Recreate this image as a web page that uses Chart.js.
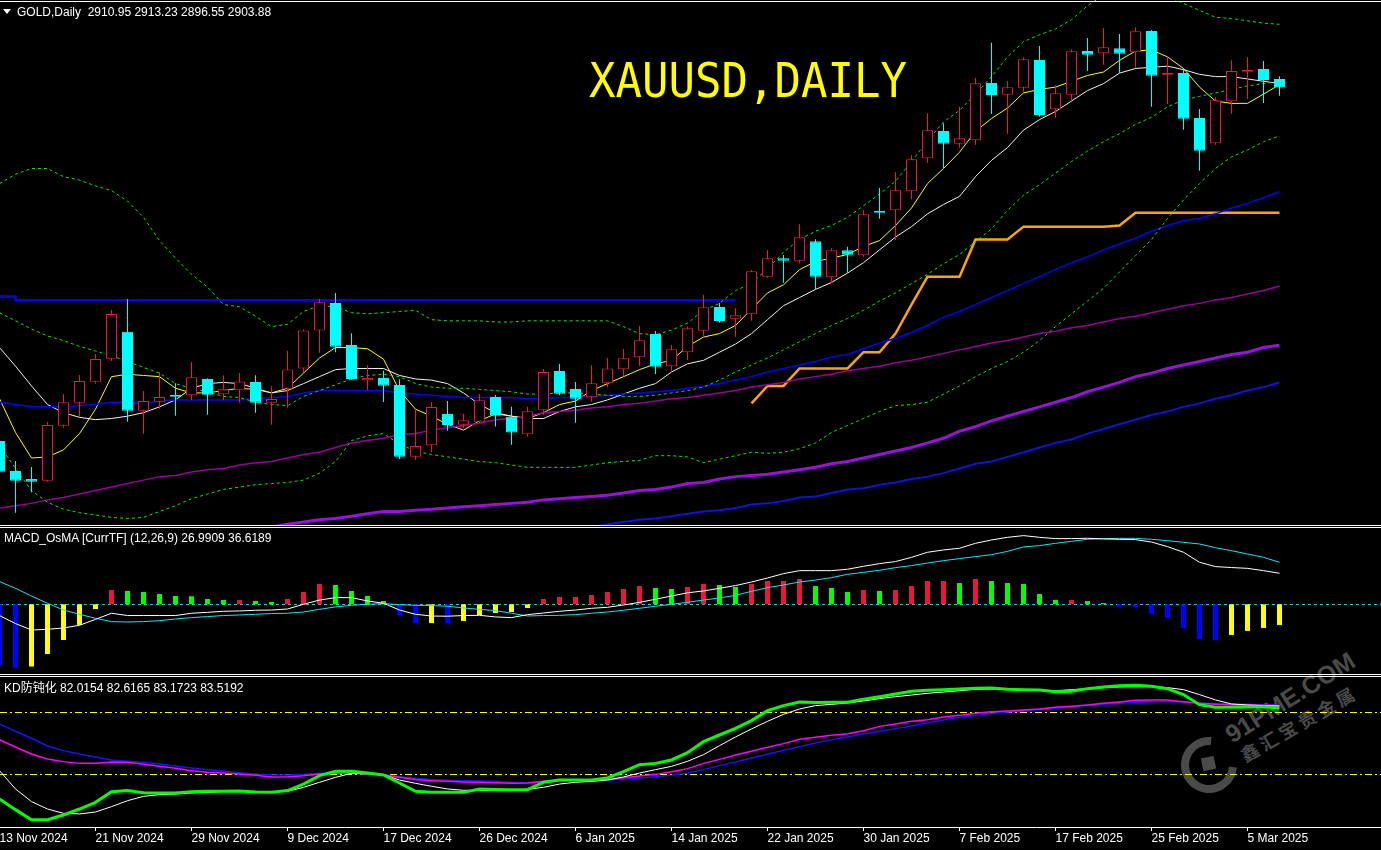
<!DOCTYPE html>
<html><head><meta charset="utf-8">
<script src="https://cdn.jsdelivr.net/npm/chart.js@4.4.1/dist/chart.umd.min.js"></script>
<style>
html,body{margin:0;padding:0;background:#000;width:1381px;height:850px;overflow:hidden;position:relative;}
canvas{position:absolute;left:0;}
.txt{position:absolute;color:#fff;font-family:'Liberation Sans',Arial,sans-serif;font-size:12px;white-space:pre;line-height:14px;z-index:5;}
.hl{position:absolute;left:0;width:1381px;height:1px;background:#fff;z-index:5;}
#wm div{position:absolute;}
</style></head><body>
<div id="wm" style="position:absolute;left:0;top:0;width:1381px;height:850px;">
  <div style="left:1181px;top:737px;width:40px;height:40px;border:8px solid #4a4a4a;border-radius:50%;border-right-color:transparent;transform:rotate(-40deg);"></div>
  <div style="left:1202px;top:757px;width:13px;height:13px;background:#4a4a4a;transform:rotate(-12deg);"></div>
  <div style="left:1228px;top:722px;height:30px;line-height:30px;font:bold 25px 'Liberation Sans',sans-serif;color:#4a4a4a;white-space:nowrap;transform-origin:0 50%;transform:rotate(-32deg);">91PME.COM</div>
  <div style="left:1241px;top:743px;height:24px;line-height:24px;font:bold 18px 'Noto Sans CJK SC',sans-serif;letter-spacing:4px;color:#4a4a4a;white-space:nowrap;transform-origin:0 50%;transform:rotate(-30deg);">鑫汇宝贵金属</div>
</div>
<canvas id="main" width="1381" height="525" style="top:0;width:1381px;height:525px"></canvas>
<canvas id="macd" width="1381" height="147" style="top:527px;width:1381px;height:147px"></canvas>
<canvas id="kd" width="1381" height="174" style="top:676px;width:1381px;height:174px"></canvas>
<div class="hl" style="top:1px"></div>
<div class="hl" style="top:525px"></div>
<div class="hl" style="top:527px"></div>
<div class="hl" style="top:674px"></div>
<div class="hl" style="top:676px"></div>
<div style="position:absolute;left:3px;top:9px;width:0;height:0;border-left:4px solid transparent;border-right:4px solid transparent;border-top:5px solid #fff;z-index:5"></div>
<div class="txt" id="hdr" style="left:17px;top:5px"></div>
<div class="txt" style="left:589px;top:56px;font-family:'DejaVu Sans Mono',monospace;font-size:44px;line-height:44px;color:#ffff00;transform-origin:0 0;transform:scaleY(1.1);">XAUUSD,DAILY</div>
<div class="txt" style="left:4px;top:531px">MACD_OsMA [CurrTF] (12,26,9) 26.9909 36.6189</div>
<div class="txt" style="left:4px;top:681px;font-family:'Liberation Sans','Noto Sans CJK SC',sans-serif">KD防钝化 82.0154 82.6165 83.1723 83.5192</div>
<script>
// ---------- DATA ----------
const dates = ["13 Nov 2024","14 Nov 2024","15 Nov 2024","18 Nov 2024","19 Nov 2024","20 Nov 2024","21 Nov 2024","22 Nov 2024","25 Nov 2024","26 Nov 2024","27 Nov 2024","28 Nov 2024","29 Nov 2024",
"2 Dec 2024","3 Dec 2024","4 Dec 2024","5 Dec 2024","6 Dec 2024","9 Dec 2024","10 Dec 2024","11 Dec 2024","12 Dec 2024","13 Dec 2024","16 Dec 2024","17 Dec 2024","18 Dec 2024","19 Dec 2024","20 Dec 2024","23 Dec 2024","24 Dec 2024","26 Dec 2024","27 Dec 2024","30 Dec 2024","31 Dec 2024",
"2 Jan 2025","3 Jan 2025","6 Jan 2025","7 Jan 2025","8 Jan 2025","9 Jan 2025","10 Jan 2025","13 Jan 2025","14 Jan 2025","15 Jan 2025","16 Jan 2025","17 Jan 2025","20 Jan 2025","21 Jan 2025","22 Jan 2025","23 Jan 2025","24 Jan 2025","27 Jan 2025","28 Jan 2025","29 Jan 2025","30 Jan 2025","31 Jan 2025",
"3 Feb 2025","4 Feb 2025","5 Feb 2025","6 Feb 2025","7 Feb 2025","10 Feb 2025","11 Feb 2025","12 Feb 2025","13 Feb 2025","14 Feb 2025","17 Feb 2025","18 Feb 2025","19 Feb 2025","20 Feb 2025","21 Feb 2025","24 Feb 2025","25 Feb 2025","26 Feb 2025","27 Feb 2025","28 Feb 2025",
"3 Mar 2025","4 Mar 2025","5 Mar 2025","6 Mar 2025","7 Mar 2025"];
const tickBars = [0,6,12,18,24,30,36,42,48,54,60,66,72,78];

const openP = [2599.6,2573.8,2567.0,2565.5,2612.8,2632.6,2650.6,2670.4,2693.6,2625.7,
2633.5,2639.2,2638.9,2652.9,2639.8,2643.2,2650.4,2632.6,2644.6,2662.0,
2694.7,2718.3,2682.2,2651.8,2653.8,2647.8,2586.1,2595.9,2622.8,2613.7,
2616.2,2637.4,2620.6,2605.4,2626.0,2659.8,2644.3,2637.2,2649.2,2661.3,
2671.6,2691.7,2663.9,2675.9,2694.4,2714.9,2704.8,2708.6,2740.9,2756.7,
2754.7,2771.4,2740.4,2763.6,2759.3,2796.6,2798.0,2814.4,2842.8,2866.2,
2855.3,2858.2,2907.5,2897.5,2903.5,2927.3,2884.9,2897.5,2935.0,2933.0,
2937.3,2933.9,2952.2,2914.7,2916.1,2877.4,2855.7,2891.8,2917.3,2919.6,
2910.95];
const highP = [2600.0,2582.4,2577.3,2615.9,2640.0,2656.4,2674.5,2712.3,2721.7,2642.6,
2658.9,2649.2,2667.6,2653.5,2656.1,2658.1,2656.1,2646.7,2677.3,2695.6,
2721.7,2726.9,2692.2,2664.8,2660.1,2652.7,2627.1,2633.2,2634.0,2622.8,
2640.0,2639.2,2629.0,2629.0,2661.5,2665.8,2650.4,2664.8,2671.0,2678.7,
2698.5,2694.2,2682.2,2698.2,2725.4,2718.3,2713.7,2746.7,2763.9,2759.6,
2786.0,2773.1,2765.3,2766.7,2798.3,2817.2,2831.0,2845.6,2881.4,2872.8,
2887.1,2911.8,2942.2,2909.2,2929.6,2939.3,2905.5,2936.5,2946.2,2954.8,
2949.7,2955.4,2953.1,2930.1,2920.2,2885.2,2895.2,2927.0,2929.9,2926.4,
2913.23];
const lowP = [2572.6,2538.0,2555.5,2564.5,2611.1,2620.6,2648.9,2668.5,2616.2,2605.9,
2627.4,2621.4,2634.6,2622.3,2634.6,2632.6,2624.0,2613.7,2628.3,2658.4,
2675.6,2675.9,2652.3,2643.5,2633.2,2584.1,2583.3,2590.1,2608.5,2610.8,
2614.9,2612.1,2596.4,2603.4,2622.3,2638.9,2615.4,2633.5,2645.8,2655.5,
2664.1,2657.2,2660.1,2669.3,2690.2,2701.5,2689.4,2703.1,2740.0,2735.8,
2752.5,2730.4,2735.3,2744.4,2758.1,2790.8,2772.2,2807.5,2839.0,2834.2,
2851.9,2854.2,2880.9,2863.9,2900.0,2878.5,2877.7,2892.9,2917.8,2923.2,
2915.9,2920.7,2887.1,2889.5,2867.3,2832.1,2854.5,2881.1,2893.8,2890.3,
2896.55];
const closeP = [2573.2,2565.5,2564.6,2613.4,2632.9,2651.2,2670.1,2708.9,2625.7,2634.0,
2637.4,2637.7,2654.4,2639.4,2644.1,2650.9,2632.6,2635.8,2661.2,2694.7,
2718.9,2680.7,2652.9,2653.8,2647.2,2586.1,2595.3,2628.9,2613.4,2617.5,
2634.6,2621.4,2607.0,2625.2,2658.9,2640.3,2636.0,2649.2,2661.9,2670.7,
2686.2,2663.5,2678.5,2696.5,2714.6,2702.8,2707.7,2745.6,2756.7,2754.7,
2774.8,2740.9,2763.6,2759.9,2794.6,2796.0,2815.2,2841.9,2866.8,2855.3,
2859.9,2907.2,2897.2,2903.8,2927.9,2880.0,2898.7,2934.8,2931.9,2938.2,
2932.7,2952.0,2913.8,2916.4,2876.8,2849.3,2892.6,2917.8,2919.0,2910.1,
2903.88];

const maYellow = [2636,2607,2585,2586,2592,2606,2627,2655,2657,2656,
2655,2645,2641,2641,2643,2645,2644,2641,2645,2658,
2671,2680,2680,2679,2670,2643,2627,2621,2614,2609,
2617,2623,2621,2619,2624,2631,2634,2643,2649,2655,
2661,2666,2669,2681,2689,2692,2699,2713,2727,2734,
2747,2754,2757,2760,2767,2772,2785,2800,2821,2834,
2848,2866,2877,2886,2899,2902,2904,2909,2914,2917,
2927,2935,2936,2930,2920,2904,2892,2890,2890,2898,
2906];
const maWhite = [2680,2664,2647,2631,2624,2620,2618,2619,2621,2624,
2629,2635,2645,2649,2650,2649,2645,2641,2643,2649,
2655,2661,2662,2662,2662,2656,2653,2652,2649,2641,
2631,2624,2621,2619,2619,2625,2629,2631,2635,2640,
2645,2649,2659,2666,2669,2676,2683,2692,2704,2716,
2723,2730,2736,2744,2753,2764,2775,2784,2795,2803,
2810,2827,2841,2852,2867,2876,2883,2892,2901,2907,
2916,2920,2921,2922,2919,2915,2913,2913,2911,2909,
2907];
const maBlue = [2633,2631,2629,2629,2629,2630,2631,2633,2633,2632,
2634,2635,2635,2635,2635,2635,2636,2637,2638,2641,
2643,2643,2643,2643,2643,2641,2640,2639,2638,2637,
2637,2637,2637,2636,2636,2637,2637,2638,2639,2640,
2641,2642,2643,2645,2647,2649,2652,2655,2659,2662,
2665,2668,2672,2674,2679,2684,2688,2693,2699,2706,
2711,2717,2723,2729,2735,2741,2747,2753,2758,2764,
2769,2774,2780,2785,2789,2791,2795,2800,2804,2809,
2814];
const maMagenta = [2542,2544,2546,2549,2551,2554,2557,2560,2563,2566,
2569,2570,2573,2575,2576,2579,2581,2582,2585,2588,
2590,2594,2598,2600,2602,2605,2606,2609,2611,2613,
2615,2618,2619,2621,2624,2625,2626,2628,2629,2631,
2632,2634,2636,2637,2639,2641,2643,2646,2648,2650,
2653,2655,2657,2660,2662,2664,2667,2669,2672,2675,
2678,2681,2684,2686,2689,2692,2694,2697,2699,2702,
2705,2707,2710,2713,2716,2718,2721,2723,2726,2729,
2733];
const maPurple = [null,null,null,null,null,null,null,null,null,null,
null,null,null,null,null,null,null,2525.5,2528,2530,
2532,2533,2535,2537,2539,2539,2540,2541,2542,2543,
2544,2545,2546,2547,2549,2550,2551,2552,2553,2555,
2557,2558,2560,2563,2564,2567,2569,2570,2571,2573,
2575,2577,2580,2582,2585,2588,2591,2594,2598,2602,
2608,2612,2617,2621,2625,2629,2633,2637,2642,2646,
2650,2655,2658,2662,2665,2668,2671,2674,2676,2680,
2682];
const maBlueThick = [null,null,null,null,null,null,null,null,null,null,
null,null,null,null,null,null,null,null,null,null,
null,null,null,null,null,null,null,null,null,null,
null,null,null,null,null,null,null,2525.5,2528,2530,
2532,2533,2535,2537,2539,2540,2542,2545,2546,2548,
2551,2552,2555,2558,2559,2562,2564,2567,2569,2572,
2576,2580,2582,2586,2590,2594,2598,2601,2606,2610,
2614,2618,2622,2625,2629,2632,2636,2639,2643,2646,
2650];
const stopLine = [null,null,null,null,null,null,null,null,null,null,
null,null,null,null,null,null,null,null,null,null,
null,null,null,null,null,null,null,null,null,null,
null,null,null,null,null,null,null,null,null,null,
null,null,null,null,null,null,null,2632,2647,2647,
2662,2662,2662,2662,2676,2676,2692,2717,2741,2741,
2741,2773,2773,2773,2784,2784,2784,2784,2784,2784,
2785,2796,2796,2796,2796,2796,2796,2796,2796,2796,
2796];
const resistLine = [2724,2720.7,2720.7,2720.7,2720.7,2720.7,2720.7,2720.7,2720.7,2720.7,
2720.7,2720.7,2720.7,2720.7,2720.7,2720.7,2720.7,2720.7,2720.7,2720.7,
2720.7,2720.7,2720.7,2720.7,2720.7,2720.7,2720.7,2720.7,2720.7,2720.7,
2720.7,2720.7,2720.7,2720.7,2720.7,2720.7,2720.7,2720.7,2720.7,2720.7,
2720.7,2720.7,2720.7,2720.7,2720.7,2720.7,2720.7];
const bbUpper = [2821,2829,2834,2834,2827,2824,2819,2815,2806,2792,
2772,2757,2743,2732,2717,2715,2707,2698,2700,2711,
2716,2715,2710,2709,2710,2711,2712,2704,2703,2703,
2703,2702,2702,2703,2703,2703,2703,2703,2703,2698,
2692,2691,2695,2701,2712,2718,2729,2735,2748,2762,
2773,2780,2785,2792,2802,2812,2823,2840,2858,2874,
2884,2898,2913,2930,2943,2949,2954,2962,2974,2983,
2987,2989,2987,2982,2976,2970,2964,2963,2961,2959,
2958];
const bbMid = [2710,2703,2696,2690,2686,2681,2677,2673,2668,2663,
2658,2649,2645,2642,2638,2637,2633,2631,2630,2638,
2643,2648,2653,2656,2657,2655,2649,2646,2645,2645,
2644,2643,2642,2640,2640,2641,2641,2640,2639,2638,
2638,2639,2641,2643,2646,2652,2659,2665,2671,2678,
2685,2692,2699,2705,2712,2720,2727,2735,2743,2752,
2760,2771,2782,2798,2811,2820,2830,2840,2849,2857,
2864,2872,2878,2887,2893,2896,2899,2902,2905,2907,
2909];
const bbLower = [2596,2576,2557,2547,2541,2538,2536,2534,2533,2534,
2539,2544,2550,2554,2558,2560,2562,2563,2564,2566,
2572,2582,2600,2604,2606,2597,2591,2588,2586,2584,
2582,2581,2579,2577,2577,2577,2577,2579,2581,2582,
2583,2587,2587,2586,2581,2584,2587,2590,2589,2590,
2593,2598,2607,2613,2619,2625,2630,2631,2633,2640,
2647,2655,2662,2668,2676,2686,2698,2709,2720,2731,
2745,2759,2773,2791,2807,2821,2834,2844,2850,2857,
2862];

const macdHist = [-52.8,-55.1,-54.2,-43.3,-31.1,-18.0,-4.1,12.4,11.6,10.7,
9.0,7.2,7.0,4.6,3.7,3.7,2.9,2.0,4.6,10.7,
17.7,16.8,11.6,7.2,2.9,-9.3,-16.3,-16.3,-16.5,-14.5,
-9.3,-7.6,-6.7,-3.2,4.6,6.4,6.4,8.1,10.7,13.3,
15.9,14.2,13.3,15.1,17.7,16.8,15.1,17.7,20.3,20.3,
22.0,15.9,14.2,10.7,12.4,11.6,12.4,15.9,20.3,20.3,
18.5,22.0,20.3,18.5,17.7,9.0,3.7,3.7,2.9,1.1,
-2.2,-2.4,-8.4,-11.9,-20.6,-30.2,-31.1,-26.7,-23.2,-20.6,
-18.0];
const macdMain = [-9.8,-16.8,-22.4,-21.8,-20.6,-18.3,-13.1,-7.8,-9.8,-9.8,
-9.8,-9.8,-7.8,-7.0,-6.1,-5.8,-5.2,-5.0,-4.1,0.0,
3.7,5.8,5.8,2.9,0.9,-5.0,-8.7,-10.2,-10.4,-9.8,
-9.6,-11.0,-11.6,-9.0,-7.6,-6.1,-5.0,-3.5,-2.6,-0.6,
1.7,4.4,7.2,10.0,11.6,13.9,16.3,19.4,22.9,26.7,
29.3,29.3,29.3,30.5,33.1,35.4,37.2,40.9,45.3,47.3,
48.8,53.1,56.0,58.3,59.8,58.3,57.2,57.2,57.5,56.9,
56.6,56.3,54.2,50.2,45.3,36.6,32.8,32.0,31.3,29.3,
27.0];
const macdSignal = [19.8,13.9,7.2,0.9,-5.0,-8.7,-12.2,-15.1,-15.4,-15.1,
-14.2,-12.8,-11.6,-10.7,-9.8,-9.3,-8.7,-8.1,-7.8,-6.7,
-4.4,-2.3,-0.9,0.0,0.6,-0.3,-0.9,-1.1,-1.7,-3.2,
-4.4,-5.5,-7.8,-10.2,-9.8,-9.6,-9.0,-7.8,-6.7,-5.2,
-3.5,-1.7,0.0,1.7,3.7,5.5,7.8,11.3,14.5,16.8,
19.4,21.1,23.2,26.1,27.8,29.6,31.9,33.7,35.9,38.0,
39.8,41.5,43.2,46.1,49.9,51.1,53.1,54.8,56.6,57.2,
57.4,57.4,56.6,55.4,54.0,52.5,49.3,46.7,43.8,40.9,
36.6];
const macdZero = 0;

const kdGreen = [-4.3,-14.7,-24.5,-24.5,-19.9,-14.1,-7.6,2.8,3.8,1.8,
1.5,1.5,2.8,3.1,3.1,3.4,2.5,2.1,3.8,10.2,
18.4,22.6,22.6,21.0,19.0,11.2,3.1,2.1,2.1,2.1,
5.4,5.0,4.7,4.7,11.9,14.1,14.1,14.1,16.1,22.2,
29.0,30.3,33.6,40.7,51.4,57.9,64.4,71.9,81.6,86.5,
90.0,89.4,89.7,89.7,92.6,95.2,97.8,100.4,101.4,102.0,
102.7,103.3,103.6,102.3,102.0,101.7,100.1,100.4,103.0,104.6,
105.9,106.2,105.3,103.0,97.2,87.4,84.8,84.8,85.2,85.5,
84.2];
const kdWhite = [23.2,5.4,-6.9,-14.1,-18.3,-18.9,-17.0,-11.8,-6.0,-1.8,
-0.1,0.5,1.5,2.1,2.8,2.8,2.8,2.8,3.1,7.0,
11.9,16.7,20.6,20.9,19.3,14.1,10.9,8.0,5.4,4.1,
4.1,4.1,4.4,5.1,7.0,10.2,11.9,12.8,14.1,17.1,
20.9,24.2,27.4,32.3,38.8,47.5,56.0,63.8,71.2,78.0,
83.2,86.5,87.7,89.0,91.0,93.3,95.2,96.8,98.5,99.7,
101.0,102.3,102.7,102.3,102.0,101.7,101.0,102.0,103.0,104.0,
104.6,104.9,104.9,104.0,102.0,97.2,92.0,88.1,87.1,86.5,
86.1];
const kdMagenta = [53.4,46.2,39.4,34.6,32.0,30.3,30.3,31.6,31.3,29.4,
27.4,25.5,23.2,21.6,20.9,20.0,18.7,17.1,17.4,18.3,
20.0,20.6,20.6,20.0,19.0,16.7,14.5,13.5,12.8,12.2,
11.9,11.5,10.9,11.2,12.8,14.1,13.8,13.5,14.5,16.4,
18.0,19.6,22.2,25.2,30.3,34.2,38.5,42.0,45.9,49.5,
53.7,55.6,57.6,59.2,62.1,66.3,68.6,71.2,72.8,75.4,
77.0,79.0,80.6,81.3,82.2,83.2,84.8,85.8,87.1,88.7,
90.0,91.6,92.0,92.0,90.3,88.7,87.7,87.4,87.1,86.8,
86.5];
const kdBlue = [68.6,61.5,54.7,47.2,42.7,39.4,36.5,33.6,32.3,31.3,
29.7,27.8,25.8,24.2,22.9,21.3,20.0,19.3,19.0,19.6,
20.6,20.9,20.9,20.3,19.3,17.4,15.8,14.5,13.8,13.5,
13.2,12.8,11.9,11.5,12.5,13.5,13.5,13.8,14.1,14.8,
16.1,17.4,18.7,20.9,24.2,28.1,31.6,35.5,39.1,43.0,
46.6,50.1,53.4,56.0,58.9,61.5,64.1,66.7,69.6,72.5,
75.4,77.0,79.0,80.3,81.6,82.6,83.9,85.5,86.5,87.7,
88.7,89.7,90.3,90.7,90.0,89.0,88.4,88.1,87.7,87.4,
87.1];
const kdLevels = [80, 20];

// ---------- RENDER ----------
const last = openP.length - 1;
document.getElementById('hdr').textContent =
  'GOLD,Daily  ' + openP[last].toFixed(2) + ' ' + highP[last].toFixed(2) + ' ' + lowP[last].toFixed(2) + ' ' + closeP[last].toFixed(2);

Chart.defaults.animation = false;
Chart.defaults.font.family = "'Liberation Sans', Arial, sans-serif";
const RED = '#e8183c', CYAN = '#00ffff';
const X_MIN = 0.03125, X_MAX = 86.34375;
const pts = arr => arr.map((v, i) => ({x: i, y: v})).filter(p => p.y !== null);
const line = (arr, color, width, extra) => Object.assign({
  type: 'line', data: pts(arr), borderColor: color, borderWidth: width,
  pointRadius: 0, pointHoverRadius: 0, tension: 0, fill: false, order: 5
}, extra || {});

const levelPlugin = {
  id: 'levels',
  beforeDatasetsDraw(chart, args, opts) {
    if (!opts || !opts.lines) return;
    const {ctx, chartArea, scales} = chart;
    opts.lines.forEach(l => {
      const y = Math.round(scales.y.getPixelForValue(l.value)) + 0.5;
      ctx.save();
      ctx.strokeStyle = l.color; ctx.lineWidth = 1; ctx.setLineDash(l.dash);
      ctx.beginPath(); ctx.moveTo(chartArea.left, y); ctx.lineTo(chartArea.right, y); ctx.stroke();
      ctx.restore();
    });
  }
};

const baseOpts = (ymin, ymax, extraPlugins) => ({
  responsive: false, maintainAspectRatio: false, devicePixelRatio: 1, events: [],
  layout: {padding: 0},
  plugins: Object.assign({legend: {display: false}, tooltip: {enabled: false}, title: {display: false}}, extraPlugins || {}),
  scales: {
    x: {type: 'linear', min: X_MIN, max: X_MAX, display: false, offset: false, grid: {offset: false}},
    y: {type: 'linear', min: ymin, max: ymax, display: false}
  }
});

// Main price chart
const isBull = i => closeP[i] >= openP[i];
new Chart(document.getElementById('main'), {
  type: 'bar',
  data: {datasets: [
    {type: 'bar', data: openP.map((o, i) => ({x: i, y: [o, closeP[i]]})), barThickness: 11, grouped: false,
     backgroundColor: c => isBull(c.dataIndex) ? '#000000' : CYAN,
     borderColor: c => isBull(c.dataIndex) ? RED : CYAN,
     borderWidth: 1, borderSkipped: false, minBarLength: 2, inflateAmount: 0, order: 0},
    {type: 'bar', data: lowP.map((l, i) => ({x: i, y: [l, highP[i]]})), barThickness: 1, grouped: false,
     backgroundColor: c => isBull(c.dataIndex) ? RED : CYAN, borderWidth: 0, inflateAmount: 0, order: 1},
    line(bbUpper, '#00ee00', 1, {borderDash: [3, 3]}),
    line(bbMid, '#00ee00', 1, {borderDash: [3, 3]}),
    line(bbLower, '#00ee00', 1, {borderDash: [3, 3]}),
    line(maMagenta, '#990099', 1.5),
    line(maPurple, '#9a10e0', 3),
    line(maBlueThick, '#1010e0', 2),
    line(maBlue, '#0000ff', 1.5),
    line(resistLine, '#0000ff', 2.5, {stepped: true}),
    line(stopLine, '#ffa500', 2.5),
    line(maWhite, '#f0f0f0', 1),
    line(maYellow, '#ffff00', 1)
  ]},
  options: baseOpts(2527.4, 2978.9)
});

// MACD
const histColor = i => {
  const v = macdHist[i], p = i > 0 ? macdHist[i - 1] : Infinity;
  if (v >= 0) return v >= p ? RED : '#00ff00';
  return v >= p ? '#ffff00' : '#0000ff';
};
new Chart(document.getElementById('macd'), {
  type: 'bar',
  data: {datasets: [
    {type: 'bar', data: pts(macdHist), barThickness: 5, grouped: false,
     backgroundColor: c => histColor(c.dataIndex), borderWidth: 0, inflateAmount: 0, order: 3},
    line(macdMain, '#ffffff', 1, {order: 1}),
    line(macdSignal, '#20e0f0', 1, {order: 2})
  ]},
  options: baseOpts(-60.7, 67.3, {levels: {lines: [{value: macdZero, color: '#20c8d8', dash: [3, 3]}]}}),
  plugins: [levelPlugin]
});

// KD
const kdOpts = baseOpts(-31.6, 115.3, {levels: {lines: kdLevels.map(v => ({value: v, color: '#ffff00', dash: [7, 3, 2, 3]}))}});
kdOpts.scales.x = {
  type: 'linear', min: X_MIN, max: X_MAX, position: 'bottom', display: true, offset: false,
  afterBuildTicks: s => { s.ticks = tickBars.map(v => ({value: v})); },
  afterFit: s => { s.height = 23; s.paddingLeft = 0; s.paddingRight = 0; },
  ticks: {autoSkip: false, maxRotation: 0, minRotation: 0, align: 'start', padding: 0,
          color: '#ffffff', font: {family: "'Liberation Sans', Arial, sans-serif", size: 12},
          callback: v => dates[v]},
  grid: {display: true, drawOnChartArea: false, drawTicks: true, tickLength: 4, color: '#ffffff', lineWidth: 1, offset: false},
  border: {display: true, color: '#ffffff', width: 1}
};
new Chart(document.getElementById('kd'), {
  type: 'line',
  data: {datasets: [
    line(kdBlue, '#1414ff', 1.5, {order: 4}),
    line(kdMagenta, '#ff00ff', 1.5, {order: 3}),
    line(kdWhite, '#ffffff', 1, {order: 2}),
    line(kdGreen, '#00ff00', 3, {order: 1})
  ]},
  options: kdOpts,
  plugins: [levelPlugin]
});
</script>
</body></html>
